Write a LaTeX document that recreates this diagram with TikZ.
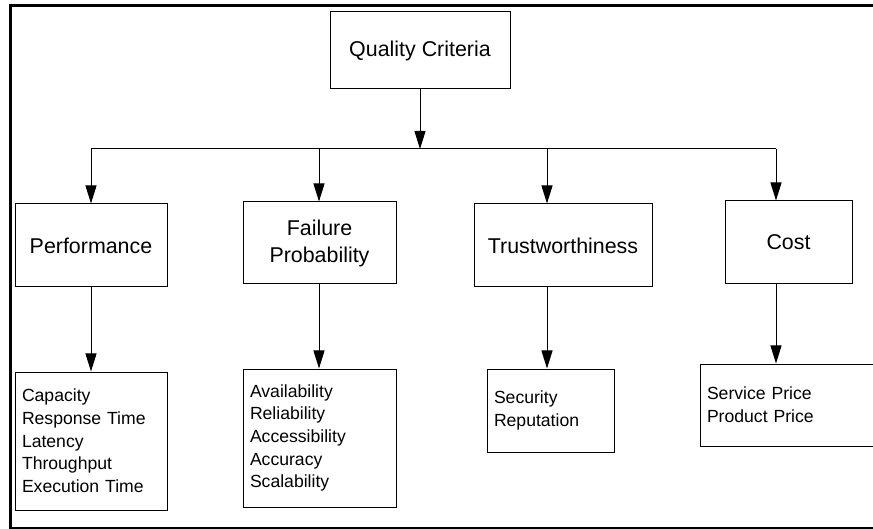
\documentclass[tikz,border=0pt]{standalone}
\usepackage{fontspec}
\setmainfont{Liberation Sans}
\usetikzlibrary{arrows.meta}

\begin{document}
\begin{tikzpicture}[x=1pt, y=-1pt,
        catbox/.style={draw=black, line width=1pt, align=center, inner sep=0pt,
            font=\fontsize{21.4}{27}\selectfont},
        listbox/.style={draw=black, line width=1pt, align=left, inner xsep=7pt, inner ysep=0pt,
            font=\fontsize{17.6}{22.7}\selectfont},
        wire/.style={draw=black, line width=1pt},
        link/.style={wire, -{Triangle[length=18pt, width=11pt]}}]
    \clip (0,0) rectangle (873,529);

    % frame, cut on the right
    \draw[draw=black, line width=3pt] (873,6) -- (10.7,6) -- (10.7,529);
    \draw[draw=black, line width=2.5pt] (9.2,527.8) -- (873,527.8);

    % boxes
    \node[catbox, minimum width=180pt, minimum height=77pt] (quality) at (420,50.5) {Quality Criteria};
    \node[catbox, minimum width=152pt, minimum height=83pt] (perf) at (91,245.5) {Performance};
    \node[catbox, minimum width=153pt, minimum height=82pt] (fail) at (319.5,243) {Failure\\Probability};
    \node[catbox, minimum width=178pt, minimum height=83pt] (trust) at (563,245.5) {Trustworthiness};
    \node[catbox, minimum width=127pt, minimum height=83pt] (cost) at (788.5,242.5) {Cost};

    \node[listbox, text width=138pt, minimum height=138pt] (perflist) at (91,441)
        {Capacity\\Response Time\\Latency\\Throughput\\Execution Time};
    \node[listbox, text width=139pt, minimum height=138pt] (faillist) at (319.5,438)
        {Availability\\Reliability\\Accessibility\\Accuracy\\Scalability};
    \node[listbox, text width=113pt, minimum height=83pt] (trustlist) at (550.5,410.5)
        {Security\\Reputation};
    \node[listbox, text width=166pt, minimum height=82pt] (costlist) at (790,405)
        {Service Price\\Product Price};

    % connectors
    \coordinate (bus) at (420,149);
    \coordinate (jperf) at (91,149);
    \coordinate (jfail) at (319,149);
    \coordinate (jtrust) at (547,149);
    \coordinate (jcost) at (776,149);

    \draw[link] (quality) -- (bus);
    \draw[wire] (jperf) -- (jcost);

    \draw[link] (jperf) -- (jperf |- perf.north);
    \draw[link] (jfail) -- (jfail |- fail.north);
    \draw[link] (jtrust) -- (jtrust |- trust.north);
    \draw[link] (jcost) -- (jcost |- cost.north);

    \draw[link] (jperf |- perf.south) -- (jperf |- perflist.north);
    \draw[link] (jfail |- fail.south) -- (jfail |- faillist.north);
    \draw[link] (jtrust |- trust.south) -- (jtrust |- trustlist.north);
    \draw[link] (jcost |- cost.south) -- (jcost |- costlist.north);
\end{tikzpicture}
\end{document}
